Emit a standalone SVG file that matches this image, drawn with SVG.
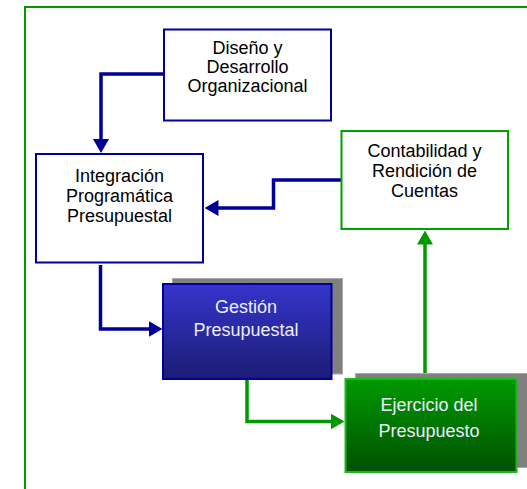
<svg xmlns="http://www.w3.org/2000/svg" width="527" height="489" viewBox="0 0 527 489">
  <style>
    .lbl { font-family: "Liberation Sans", Arial, sans-serif; font-size: 18px; text-anchor: middle; fill: #000000; }
    .lbl-light { font-family: "Liberation Sans", Arial, sans-serif; font-size: 18px; text-anchor: middle; fill: #eeeeff; }
    .box-blue { fill: #ffffff; stroke: #0000a0; stroke-width: 2; }
    .box-green { fill: #ffffff; stroke: #00a000; stroke-width: 2; }
    .shadow { fill: #808080; stroke: #a8a8a8; stroke-width: 1; }
    .con-blue { fill: none; stroke: #000099; stroke-width: 3.5; }
    .con-green { fill: none; stroke: #009900; stroke-width: 3.5; }
  </style>
  <defs>
    <linearGradient id="gBlue" x1="0" y1="0" x2="0" y2="1">
      <stop offset="0" stop-color="#3535cd"/>
      <stop offset="1" stop-color="#1c1c74"/>
    </linearGradient>
    <linearGradient id="gGreen" x1="0" y1="0" x2="0" y2="1">
      <stop offset="0" stop-color="#009a00"/>
      <stop offset="1" stop-color="#005000"/>
    </linearGradient>
    <marker id="arrBlue" viewBox="0 0 14 16" refX="0.5" refY="8" markerWidth="14" markerHeight="16" markerUnits="userSpaceOnUse" orient="auto">
      <path d="M0,0 L14,8 L0,16 Z" fill="#000099"/>
    </marker>
    <marker id="arrGreen" viewBox="0 0 14 16" refX="0.5" refY="8" markerWidth="14" markerHeight="16" markerUnits="userSpaceOnUse" orient="auto">
      <path d="M0,0 L14,8 L0,16 Z" fill="#009900"/>
    </marker>
  </defs>

  <rect id="frame" x="25" y="7" width="520" height="500" fill="none" stroke="#009900" stroke-width="2"/>

  <g id="connectors">
    <path class="con-blue" d="M164,74 H101 V139.5" marker-end="url(#arrBlue)"/>
    <path class="con-blue" d="M342,180 H273.5 V208 H218" marker-end="url(#arrBlue)"/>
    <path class="con-blue" d="M100.5,265 V329 H149" marker-end="url(#arrBlue)"/>
    <path class="con-green" d="M247,379 V421.5 H331" marker-end="url(#arrGreen)"/>
    <path class="con-green" d="M425,378 V244" marker-end="url(#arrGreen)"/>
  </g>

  <g id="node-diseno">
    <rect class="box-blue" x="164" y="29.5" width="167" height="91"/>
    <text class="lbl" x="247.5" y="54">Diseño y</text>
    <text class="lbl" x="247.5" y="73">Desarrollo</text>
    <text class="lbl" x="247.5" y="92">Organizacional</text>
  </g>

  <g id="node-integracion">
    <rect class="box-blue" x="36" y="154" width="167" height="108.5"/>
    <text class="lbl" x="119.5" y="182">Integración</text>
    <text class="lbl" x="119.5" y="202">Programática</text>
    <text class="lbl" x="119.5" y="222">Presupuestal</text>
  </g>

  <g id="node-contabilidad">
    <rect class="box-green" x="341.5" y="131" width="166.5" height="98"/>
    <text class="lbl" x="424.5" y="157">Contabilidad y</text>
    <text class="lbl" x="424.5" y="177">Rendición de</text>
    <text class="lbl" x="424.5" y="197">Cuentas</text>
  </g>

  <g id="node-gestion">
    <rect class="shadow" x="172.5" y="278.5" width="170" height="95.5"/>
    <rect x="163" y="284" width="168.5" height="95" fill="url(#gBlue)" stroke="#000099" stroke-width="2"/>
    <text class="lbl-light" x="246" y="313">Gestión</text>
    <text class="lbl-light" x="246" y="336">Presupuestal</text>
  </g>

  <g id="node-ejercicio">
    <rect class="shadow" x="355.5" y="373.5" width="175" height="94"/>
    <rect x="345.5" y="379" width="171" height="93" fill="url(#gGreen)" stroke="#1fb51f" stroke-width="2"/>
    <text class="lbl-light" x="429" y="411">Ejercicio del</text>
    <text class="lbl-light" x="429" y="437">Presupuesto</text>
  </g>
</svg>
